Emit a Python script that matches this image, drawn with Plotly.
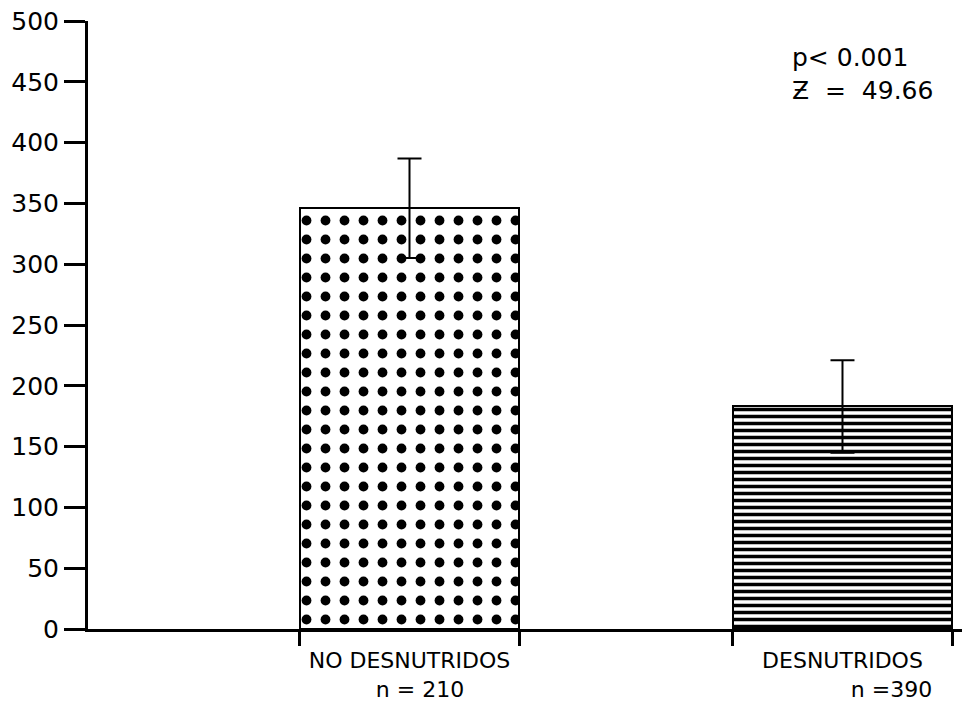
import plotly.graph_objects as go

categories = ["NO DESNUTRIDOS", "DESNUTRIDOS"]
n_values = [210, 390]
means = [346, 183]
errors = [41, 38]
y_ticks = [0, 50, 100, 150, 200, 250, 300, 350, 400, 450, 500]
p_text = "p< 0.001"
z_text = "Ƶ\u00a0\u00a0=\u00a0\u00a049.66"

xpos = list(range(len(categories)))
bar_width = 0.506
patterns = [
    dict(shape=".", size=19, solidity=0.21, fgcolor="black", bgcolor="white", fillmode="replace"),
    dict(shape="-", size=7, solidity=0.5, fgcolor="black", bgcolor="white", fillmode="replace"),
]
nb = "\u00a0"
tick_labels = [
    f"{categories[0]}<br>{nb * 3}n = {n_values[0]}",
    f"{categories[1]}<br>{nb * 14}n ={n_values[1]}",
]

fig = go.Figure()
for i in range(len(categories)):
    fig.add_trace(go.Bar(
        x=[xpos[i]], y=[means[i]], width=bar_width,
        marker=dict(color="white", pattern=patterns[i], line=dict(color="black", width=2)),
        error_y=dict(type="data", array=[errors[i]], color="black", thickness=2, width=12),
        showlegend=False,
    ))

edges = []
for x in xpos:
    edges += [x - bar_width / 2, x + bar_width / 2]
# invisible trace on secondary x axis for edge ticks
fig.add_trace(go.Scatter(x=edges, y=[0] * len(edges), xaxis="x2", mode="markers",
                         marker=dict(opacity=0), showlegend=False, hoverinfo="skip"))

xrange = [-0.7425, 1.276]
fig.update_layout(
    width=963, height=704,
    margin=dict(l=88, r=1, t=21, b=75, autoexpand=False),
    plot_bgcolor="white", paper_bgcolor="white",
    font=dict(family="DejaVu Sans", color="black"),
    xaxis=dict(range=xrange, tickvals=xpos, ticktext=tick_labels,
               ticks="outside", ticklen=10, tickcolor="rgba(0,0,0,0)",
               showline=True, linecolor="black", linewidth=3, showgrid=False,
               zeroline=False, tickfont=dict(size=22), automargin=False),
    xaxis2=dict(range=xrange, overlaying="x", side="bottom", tickvals=edges,
                ticks="outside", ticklen=16, tickwidth=3, tickcolor="black",
                showticklabels=False, showgrid=False, zeroline=False, showline=False,
                automargin=False),
    yaxis=dict(range=[0, 500], tickvals=y_ticks, ticks="outside", ticklen=21,
               tickwidth=3, tickcolor="black", showline=True, linecolor="black",
               linewidth=3, showgrid=False, zeroline=False, tickfont=dict(size=25),
               automargin=False),
    annotations=[
        dict(text=p_text + "<br>" + z_text, xref="paper", yref="paper",
             x=0.803, y=0.967, xanchor="left", yanchor="top", align="left",
             showarrow=False, font=dict(size=25)),
    ],
    bargap=0,
)

fig.write_html("out.html")
